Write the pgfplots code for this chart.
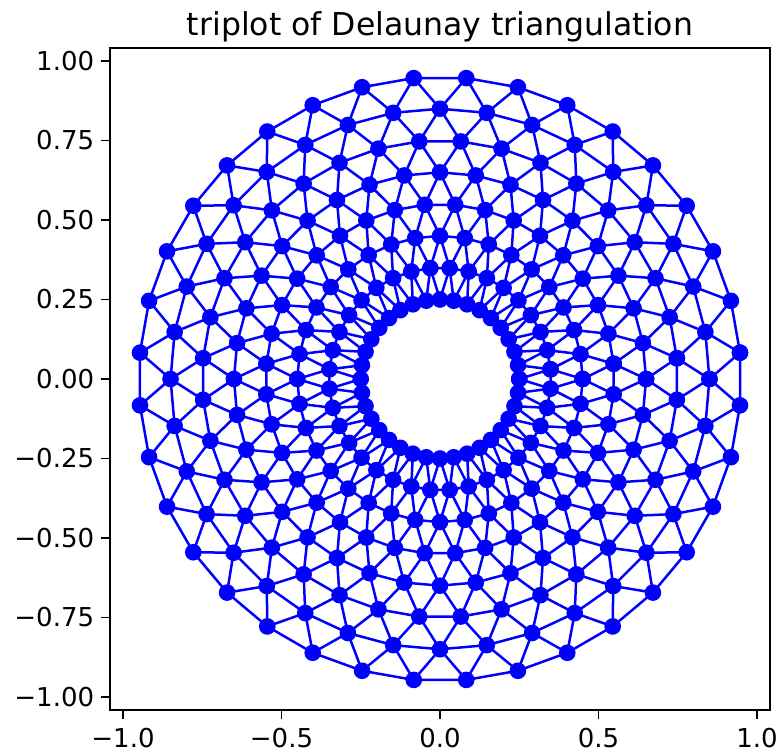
\documentclass[border=0pt]{standalone}
\usepackage{fontspec}
\setmainfont{DejaVu Sans}
\usepackage{pgfplots}
\usepgfplotslibrary{polar}
\pgfplotsset{compat=1.18}
\usepackage{pgfplotstable}

% angle (deg)  radius of the even rings (0,2,4,6)
\pgfplotstableread{
a r0 r2 r4 r6
0 0.25 0.45 0.65 0.85
10 0.25 0.45 0.65 0.85
20 0.25 0.45 0.65 0.85
30 0.25 0.45 0.65 0.85
40 0.25 0.45 0.65 0.85
50 0.25 0.45 0.65 0.85
60 0.25 0.45 0.65 0.85
70 0.25 0.45 0.65 0.85
80 0.25 0.45 0.65 0.85
90 0.25 0.45 0.65 0.85
100 0.25 0.45 0.65 0.85
110 0.25 0.45 0.65 0.85
120 0.25 0.45 0.65 0.85
130 0.25 0.45 0.65 0.85
140 0.25 0.45 0.65 0.85
150 0.25 0.45 0.65 0.85
160 0.25 0.45 0.65 0.85
170 0.25 0.45 0.65 0.85
180 0.25 0.45 0.65 0.85
190 0.25 0.45 0.65 0.85
200 0.25 0.45 0.65 0.85
210 0.25 0.45 0.65 0.85
220 0.25 0.45 0.65 0.85
230 0.25 0.45 0.65 0.85
240 0.25 0.45 0.65 0.85
250 0.25 0.45 0.65 0.85
260 0.25 0.45 0.65 0.85
270 0.25 0.45 0.65 0.85
280 0.25 0.45 0.65 0.85
290 0.25 0.45 0.65 0.85
300 0.25 0.45 0.65 0.85
310 0.25 0.45 0.65 0.85
320 0.25 0.45 0.65 0.85
330 0.25 0.45 0.65 0.85
340 0.25 0.45 0.65 0.85
350 0.25 0.45 0.65 0.85
360 0.25 0.45 0.65 0.85
}\ringE

% angle (deg)  radius of the odd rings (1,3,5,7)
\pgfplotstableread{
a r1 r3 r5 r7
5 0.35 0.55 0.75 0.95
15 0.35 0.55 0.75 0.95
25 0.35 0.55 0.75 0.95
35 0.35 0.55 0.75 0.95
45 0.35 0.55 0.75 0.95
55 0.35 0.55 0.75 0.95
65 0.35 0.55 0.75 0.95
75 0.35 0.55 0.75 0.95
85 0.35 0.55 0.75 0.95
95 0.35 0.55 0.75 0.95
105 0.35 0.55 0.75 0.95
115 0.35 0.55 0.75 0.95
125 0.35 0.55 0.75 0.95
135 0.35 0.55 0.75 0.95
145 0.35 0.55 0.75 0.95
155 0.35 0.55 0.75 0.95
165 0.35 0.55 0.75 0.95
175 0.35 0.55 0.75 0.95
185 0.35 0.55 0.75 0.95
195 0.35 0.55 0.75 0.95
205 0.35 0.55 0.75 0.95
215 0.35 0.55 0.75 0.95
225 0.35 0.55 0.75 0.95
235 0.35 0.55 0.75 0.95
245 0.35 0.55 0.75 0.95
255 0.35 0.55 0.75 0.95
265 0.35 0.55 0.75 0.95
275 0.35 0.55 0.75 0.95
285 0.35 0.55 0.75 0.95
295 0.35 0.55 0.75 0.95
305 0.35 0.55 0.75 0.95
315 0.35 0.55 0.75 0.95
325 0.35 0.55 0.75 0.95
335 0.35 0.55 0.75 0.95
345 0.35 0.55 0.75 0.95
355 0.35 0.55 0.75 0.95
365 0.35 0.55 0.75 0.95
}\ringO

% zigzag edges between neighbouring rings: angle (deg), radius
\pgfplotstableread{
a s01 s12 s23 s34 s45 s56 s67
0 0.25 0.45 0.45 0.65 0.65 0.85 0.85
5 0.35 0.35 0.55 0.55 0.75 0.75 0.95
10 0.25 0.45 0.45 0.65 0.65 0.85 0.85
15 0.35 0.35 0.55 0.55 0.75 0.75 0.95
20 0.25 0.45 0.45 0.65 0.65 0.85 0.85
25 0.35 0.35 0.55 0.55 0.75 0.75 0.95
30 0.25 0.45 0.45 0.65 0.65 0.85 0.85
35 0.35 0.35 0.55 0.55 0.75 0.75 0.95
40 0.25 0.45 0.45 0.65 0.65 0.85 0.85
45 0.35 0.35 0.55 0.55 0.75 0.75 0.95
50 0.25 0.45 0.45 0.65 0.65 0.85 0.85
55 0.35 0.35 0.55 0.55 0.75 0.75 0.95
60 0.25 0.45 0.45 0.65 0.65 0.85 0.85
65 0.35 0.35 0.55 0.55 0.75 0.75 0.95
70 0.25 0.45 0.45 0.65 0.65 0.85 0.85
75 0.35 0.35 0.55 0.55 0.75 0.75 0.95
80 0.25 0.45 0.45 0.65 0.65 0.85 0.85
85 0.35 0.35 0.55 0.55 0.75 0.75 0.95
90 0.25 0.45 0.45 0.65 0.65 0.85 0.85
95 0.35 0.35 0.55 0.55 0.75 0.75 0.95
100 0.25 0.45 0.45 0.65 0.65 0.85 0.85
105 0.35 0.35 0.55 0.55 0.75 0.75 0.95
110 0.25 0.45 0.45 0.65 0.65 0.85 0.85
115 0.35 0.35 0.55 0.55 0.75 0.75 0.95
120 0.25 0.45 0.45 0.65 0.65 0.85 0.85
125 0.35 0.35 0.55 0.55 0.75 0.75 0.95
130 0.25 0.45 0.45 0.65 0.65 0.85 0.85
135 0.35 0.35 0.55 0.55 0.75 0.75 0.95
140 0.25 0.45 0.45 0.65 0.65 0.85 0.85
145 0.35 0.35 0.55 0.55 0.75 0.75 0.95
150 0.25 0.45 0.45 0.65 0.65 0.85 0.85
155 0.35 0.35 0.55 0.55 0.75 0.75 0.95
160 0.25 0.45 0.45 0.65 0.65 0.85 0.85
165 0.35 0.35 0.55 0.55 0.75 0.75 0.95
170 0.25 0.45 0.45 0.65 0.65 0.85 0.85
175 0.35 0.35 0.55 0.55 0.75 0.75 0.95
180 0.25 0.45 0.45 0.65 0.65 0.85 0.85
185 0.35 0.35 0.55 0.55 0.75 0.75 0.95
190 0.25 0.45 0.45 0.65 0.65 0.85 0.85
195 0.35 0.35 0.55 0.55 0.75 0.75 0.95
200 0.25 0.45 0.45 0.65 0.65 0.85 0.85
205 0.35 0.35 0.55 0.55 0.75 0.75 0.95
210 0.25 0.45 0.45 0.65 0.65 0.85 0.85
215 0.35 0.35 0.55 0.55 0.75 0.75 0.95
220 0.25 0.45 0.45 0.65 0.65 0.85 0.85
225 0.35 0.35 0.55 0.55 0.75 0.75 0.95
230 0.25 0.45 0.45 0.65 0.65 0.85 0.85
235 0.35 0.35 0.55 0.55 0.75 0.75 0.95
240 0.25 0.45 0.45 0.65 0.65 0.85 0.85
245 0.35 0.35 0.55 0.55 0.75 0.75 0.95
250 0.25 0.45 0.45 0.65 0.65 0.85 0.85
255 0.35 0.35 0.55 0.55 0.75 0.75 0.95
260 0.25 0.45 0.45 0.65 0.65 0.85 0.85
265 0.35 0.35 0.55 0.55 0.75 0.75 0.95
270 0.25 0.45 0.45 0.65 0.65 0.85 0.85
275 0.35 0.35 0.55 0.55 0.75 0.75 0.95
280 0.25 0.45 0.45 0.65 0.65 0.85 0.85
285 0.35 0.35 0.55 0.55 0.75 0.75 0.95
290 0.25 0.45 0.45 0.65 0.65 0.85 0.85
295 0.35 0.35 0.55 0.55 0.75 0.75 0.95
300 0.25 0.45 0.45 0.65 0.65 0.85 0.85
305 0.35 0.35 0.55 0.55 0.75 0.75 0.95
310 0.25 0.45 0.45 0.65 0.65 0.85 0.85
315 0.35 0.35 0.55 0.55 0.75 0.75 0.95
320 0.25 0.45 0.45 0.65 0.65 0.85 0.85
325 0.35 0.35 0.55 0.55 0.75 0.75 0.95
330 0.25 0.45 0.45 0.65 0.65 0.85 0.85
335 0.35 0.35 0.55 0.55 0.75 0.75 0.95
340 0.25 0.45 0.45 0.65 0.65 0.85 0.85
345 0.35 0.35 0.55 0.55 0.75 0.75 0.95
350 0.25 0.45 0.45 0.65 0.65 0.85 0.85
355 0.35 0.35 0.55 0.55 0.75 0.75 0.95
360 0.25 0.45 0.45 0.65 0.65 0.85 0.85
}\zig

\begin{document}
\begin{tikzpicture}
\begin{axis}[
  name=main,
  scale only axis,
  width=330pt, height=331pt,
  xmin=-1.041, xmax=1.041, ymin=-1.041, ymax=1.041,
  axis line style={line width=0.95pt},
  tick align=outside,
  major tick length=4.4pt,
  tick style={line width=0.95pt, black},
  xtick={-1,-0.5,0,0.5,1},
  xticklabels={−1.0,−0.5,0.0,0.5,1.0},
  ytick={-1,-0.75,-0.5,-0.25,0,0.25,0.5,0.75,1},
  yticklabels={−1.00,−0.75,−0.50,−0.25,0.00,0.25,0.50,0.75,1.00},
  xtick pos=bottom, ytick pos=left,
  ticklabel style={font=\fontsize{13}{15}\selectfont},
  xticklabel style={yshift=-1pt},
  title={triplot of Delaunay triangulation},
  title style={font=\fontsize{15.75}{18}\selectfont, yshift=-6.5pt},
  edge/.style={blue, line width=1.25pt, line join=round, mark=none},
  node/.style={blue, only marks, mark=*, mark size=3.55pt, line width=1.2pt, mark options={fill=blue, draw=blue}},
]
\addplot[edge, data cs=polar] table[x=a, y=s01] {\zig};
\addplot[edge, data cs=polar] table[x=a, y=s12] {\zig};
\addplot[edge, data cs=polar] table[x=a, y=s23] {\zig};
\addplot[edge, data cs=polar] table[x=a, y=s34] {\zig};
\addplot[edge, data cs=polar] table[x=a, y=s45] {\zig};
\addplot[edge, data cs=polar] table[x=a, y=s56] {\zig};
\addplot[edge, data cs=polar] table[x=a, y=s67] {\zig};
\addplot[edge, data cs=polar] table[x=a, y=r0] {\ringE};
\addplot[edge, data cs=polar] table[x=a, y=r2] {\ringE};
\addplot[edge, data cs=polar] table[x=a, y=r4] {\ringE};
\addplot[edge, data cs=polar] table[x=a, y=r6] {\ringE};
\addplot[edge, data cs=polar] table[x=a, y=r1] {\ringO};
\addplot[edge, data cs=polar] table[x=a, y=r3] {\ringO};
\addplot[edge, data cs=polar] table[x=a, y=r5] {\ringO};
\addplot[edge, data cs=polar] table[x=a, y=r7] {\ringO};
\addplot[node, data cs=polar] table[x=a, y=r0] {\ringE};
\addplot[node, data cs=polar] table[x=a, y=r2] {\ringE};
\addplot[node, data cs=polar] table[x=a, y=r4] {\ringE};
\addplot[node, data cs=polar] table[x=a, y=r6] {\ringE};
\addplot[node, data cs=polar] table[x=a, y=r1] {\ringO};
\addplot[node, data cs=polar] table[x=a, y=r3] {\ringO};
\addplot[node, data cs=polar] table[x=a, y=r5] {\ringO};
\addplot[node, data cs=polar] table[x=a, y=r7] {\ringO};
\end{axis}
\pgfresetboundingbox
\path ([shift={(-55pt,-23pt)}]main.south west) rectangle ([shift={(6.5pt,24pt)}]main.north east);
\end{tikzpicture}
\end{document}
